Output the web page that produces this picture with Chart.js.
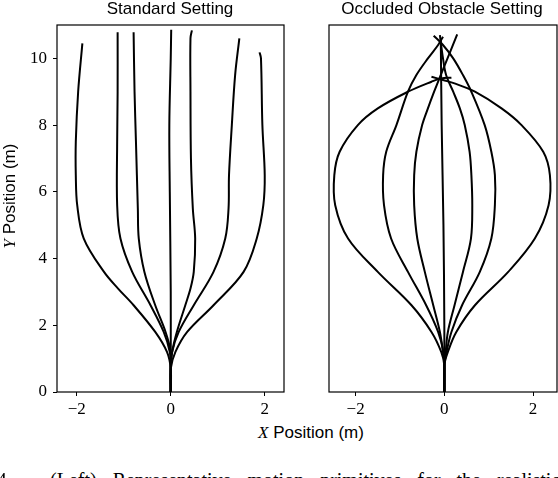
<!DOCTYPE html>
<html>
<head>
<meta charset="utf-8">
<script src="https://cdn.jsdelivr.net/npm/chart.js@4.4.1/dist/chart.umd.min.js"></script>
<style>
  html, body { margin: 0; padding: 0; background: #fff; overflow: hidden; }
  body { width: 558px; height: 478px; position: relative; }
  canvas { position: absolute; top: 0; }
  #left { left: 0; }
  #right { left: 300px; }
  .lbl { position: absolute; font-family: 'Liberation Sans', Arial, sans-serif; font-size: 17px; line-height: 1; color: #000; white-space: nowrap; }
  .math { font-family: 'Liberation Serif', serif; font-style: italic; }
  .cap { position: absolute; font-family: 'Liberation Serif', serif; font-size: 20px; line-height: 1; white-space: nowrap; color: #000; }
</style>
</head>
<body>
<canvas id="left" width="292" height="420"></canvas>
<canvas id="right" width="258" height="420"></canvas>

<div class="lbl" id="t1" style="top:0; left:170px; transform:translateX(-50%);">Standard Setting</div>
<div class="lbl" id="t2" style="top:0; left:442px; transform:translateX(-50%);">Occluded Obstacle Setting</div>
<div class="lbl" id="xl" style="top:424px; left:311px; transform:translateX(-50%);"><span class="math">X</span> Position (m)</div>
<div class="lbl" id="yl" style="top:196px; left:9px; transform:translate(-50%,-50%) rotate(-90deg);"><span class="math">Y</span> Position (m)</div>
<div class="cap" style="top:470px; left:-40px;">Fig. 4.</div>
<div class="cap" style="top:470px; left:50px; word-spacing:11px;">(Left) Representative motion primitives for the realistic</div>

<script>
// tick values
const xTicks = [-2, 0, 2];
const yTicks = [0, 2, 4, 6, 8, 10];

// standard setting trajectories [x, y] (m)
const std1 = [[0,0],[0,0.7],[-0.08,1.2],[-0.33,1.8],[-0.79,2.6],[-1.12,3.1],[-1.42,3.6],[-1.85,4.6],[-1.99,5.6],[-2.02,6.5],[-2.02,7.5],[-1.97,9.0],[-1.88,10.45]];
const std2 = [[0,0],[0,0.7],[-0.02,1.2],[-0.15,1.8],[-0.43,2.6],[-0.82,3.6],[-1.07,4.6],[-1.14,5.6],[-1.14,7.5],[-1.13,9.0],[-1.13,10.78]];
const std3 = [[0,0],[0,0.7],[0,1.2],[-0.11,1.8],[-0.33,2.6],[-0.56,3.6],[-0.68,4.6],[-0.70,5.5],[-0.74,7.5],[-0.77,9.0],[-0.79,10.78]];
const std4 = [[0,0],[0,0.7],[0,1.2],[0,3.0],[-0.02,6.0],[-0.03,8.0],[0,10.0],[0.01,10.86]];
const std5 = [[0,0],[0,0.7],[0.03,1.2],[0.13,1.8],[0.31,2.6],[0.42,3.1],[0.49,3.6],[0.52,4.6],[0.47,5.5],[0.43,7.0],[0.42,9.0],[0.42,10.6],[0.45,10.84]];
const std6 = [[0,0],[0,0.7],[0.03,1.2],[0.17,1.8],[0.49,2.6],[0.91,3.6],[1.16,4.6],[1.23,5.5],[1.24,6.5],[1.30,8.0],[1.37,9.5],[1.46,10.6]];
const std7 = [[0,0],[0,0.7],[0.1,1.2],[0.35,1.8],[0.91,2.6],[1.55,3.6],[1.83,4.6],[1.97,5.6],[2.0,6.5],[1.95,8.0],[1.92,10.0],[1.89,10.18]];

// occluded obstacle trajectories [x, y] (m)
const occ1 = [[0,0],[0,0.8],[-0.07,1.2],[-0.29,1.8],[-0.74,2.6],[-1.50,3.6],[-2.17,4.6],[-2.46,5.6],[-2.48,6.5],[-2.36,7.2],[-1.95,8.0],[-1.5,8.5],[-0.82,9.0],[-0.29,9.3],[-0.07,9.4],[0.16,9.42]];
const occ2 = [[0,0],[0,0.8],[-0.02,1.2],[-0.14,1.8],[-0.41,2.6],[-0.82,3.6],[-1.2,4.6],[-1.36,5.6],[-1.38,6.5],[-1.31,7.2],[-1.08,8.0],[-0.82,9.0],[-0.63,9.5],[-0.37,10.0],[-0.14,10.4],[-0.03,10.65]];
const occ3 = [[0,0],[0,0.8],[-0.03,1.2],[-0.1,1.8],[-0.25,2.6],[-0.44,3.6],[-0.61,4.6],[-0.68,5.6],[-0.68,6.5],[-0.63,7.2],[-0.5,8.0],[-0.37,8.5],[-0.23,9.0],[-0.14,9.3],[-0.05,9.6],[0.29,10.72]];
const occ4 = [[0,0],[0,2.0],[-0.02,5.0],[-0.06,8.0],[-0.08,10.6]];
const occ5 = [[0,0],[0,0.8],[0.03,1.2],[0.08,1.8],[0.23,2.6],[0.42,3.6],[0.6,4.6],[0.63,5.6],[0.61,6.5],[0.57,7.2],[0.46,8.0],[0.35,8.5],[0.2,9.0],[0.04,9.5],[-0.03,10.0],[-0.1,10.7]];
const occ6 = [[0,0],[0,0.8],[0.05,1.2],[0.16,1.8],[0.4,2.6],[0.8,3.6],[1.06,4.6],[1.14,5.6],[1.14,6.5],[1.06,7.2],[0.91,8.0],[0.61,9.0],[0.42,9.5],[0.2,10.0],[-0.03,10.4],[-0.24,10.68]];
const occ7 = [[0,0],[0,0.8],[0.08,1.2],[0.27,1.8],[0.69,2.6],[1.44,3.6],[2.04,4.6],[2.35,5.6],[2.38,6.5],[2.23,7.2],[1.74,8.0],[1.29,8.5],[0.69,9.0],[0.23,9.25],[-0.03,9.35],[-0.29,9.45]];

const minus = v => (v < 0 ? '\u2212' + Math.abs(v) : String(v));

// draw full box around the axes
const frame = {
    id: 'frame',
    afterDatasetsDraw(chart) {
        const a = chart.chartArea;
        const ctx = chart.ctx;
        ctx.save();
        ctx.strokeStyle = '#000';
        ctx.lineWidth = 1.2;
        ctx.strokeRect(a.left, a.top, a.right - a.left, a.bottom - a.top);
        ctx.restore();
    }
};

function toDatasets(paths) {
    return paths.map(p => ({
        data: p.map(pt => ({ x: pt[0], y: pt[1] })),
        showLine: true,
        borderColor: '#000',
        borderWidth: 2,
        pointRadius: 0,
        tension: 0.35,
        fill: false
    }));
}

function xScale(min, max) {
    return {
        type: 'linear',
        min: min,
        max: max,
        afterFit: s => { s.height = 28; },
        afterBuildTicks: s => { s.ticks = xTicks.map(v => ({ value: v })); },
        border: { display: false },
        grid: { drawOnChartArea: false, drawTicks: true, tickLength: 4, color: '#000', lineWidth: 1 },
        ticks: {
            padding: 3,
            color: '#000',
            font: { family: 'Liberation Serif', size: 17 },
            maxRotation: 0,
            callback: minus
        }
    };
}

const serifTicks = { family: 'Liberation Serif', size: 17 };

new Chart(document.getElementById('left'), {
    type: 'scatter',
    data: { datasets: toDatasets([std1, std2, std3, std4, std5, std6, std7]) },
    options: {
        responsive: false,
        animation: false,
        layout: { padding: { left: 0, top: 25, right: 8, bottom: 0 } },
        plugins: { legend: { display: false }, tooltip: { enabled: false } },
        scales: {
            x: xScale(-2.42, 2.41),
            y: {
                type: 'linear',
                min: 0,
                max: 11,
                afterFit: s => { s.width = 57; },
                afterBuildTicks: s => { s.ticks = yTicks.map(v => ({ value: v })); },
                border: { display: false },
                grid: { drawOnChartArea: false, drawTicks: true, tickLength: 4, color: '#000', lineWidth: 1 },
                ticks: { padding: 6, color: '#000', font: serifTicks, callback: minus }
            }
        }
    },
    plugins: [frame]
});

new Chart(document.getElementById('right'), {
    type: 'scatter',
    data: { datasets: toDatasets([occ1, occ2, occ3, occ4, occ5, occ6, occ7]) },
    options: {
        responsive: false,
        animation: false,
        layout: { padding: { left: 29, top: 25, right: 1, bottom: 0 } },
        plugins: { legend: { display: false }, tooltip: { enabled: false } },
        scales: {
            x: xScale(-2.6, 2.54),
            y: { type: 'linear', min: 0, max: 11, display: false }
        }
    },
    plugins: [frame]
});
</script>
</body>
</html>
